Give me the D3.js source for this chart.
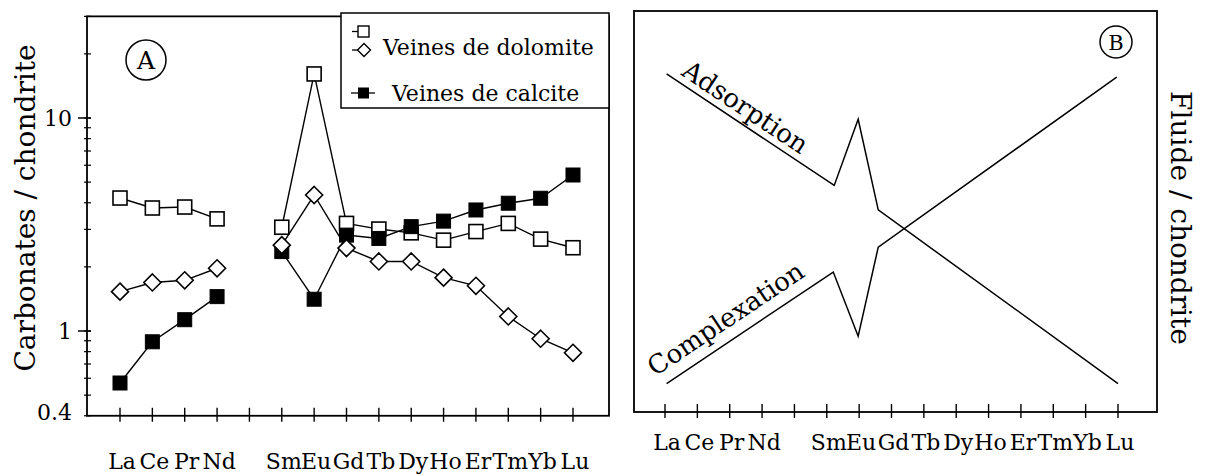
<!DOCTYPE html>
<html><head><meta charset="utf-8">
<script src="https://cdn.jsdelivr.net/npm/d3@7"></script>
<style>
html,body{margin:0;padding:0;background:#fff;}
svg{display:block;}
text{font-family:"DejaVu Serif",serif;fill:#000;}
</style></head>
<body>
<svg id="chart" width="1205" height="475"></svg>
<script>
// ---------- data ----------
const elements = ["La","Ce","Pr","Nd","Pm","Sm","Eu","Gd","Tb","Dy","Ho","Er","Tm","Yb","Lu"];
const tickLabels = ["La","Ce","Pr","Nd","","Sm","Eu","Gd","Tb","Dy","Ho","Er","Tm","Yb","Lu"];
const dolomiteSquares  = [4.21,3.78,3.82,3.36,null,3.07,16.1,3.20,3.01,2.89,2.67,2.93,3.20,2.70,2.46];
const dolomiteDiamonds = [1.53,1.69,1.73,1.97,null,2.53,4.35,2.45,2.12,2.12,1.78,1.63,1.17,0.92,0.79];
const calciteValues    = [0.57,0.89,1.13,1.45,null,2.36,1.41,2.82,2.72,3.09,3.28,3.70,3.98,4.20,5.40];
const yTickValues = [0.4, 1, 10];
const yTickLabels = ["0.4", "1", "10"];
const legendLabels = ["Veines de dolomite", "Veines de calcite"];
// panel B schematic curves (x in element index, y in relative units 0-100)
const adsorptionX   = [0.05, 5.23, 5.97, 6.59, 14];
const adsorptionY   = [84.3, 56.5, 73.0, 50.4, 7.1];
const complexationX = [0.05, 5.2, 5.97, 6.59, 13.96];
const complexationY = [7.1, 34.9, 18.9, 41.1, 83.5];

const svg = d3.select("#chart");

// ---------- panel A ----------
const A = {left: 87, right: 609};
const xA = d3.scaleLinear().domain([0, 14]).range([120, 573]);
const yA = d3.scaleLog().domain([1, 10]).range([331, 118]);
const A_top = yA(30), A_bottom = yA(0.4);

const gA = svg.append("g");
gA.append("rect").attr("x", A.left).attr("y", A_top).attr("width", A.right - A.left).attr("height", A_bottom - A_top)
  .attr("fill", "none").attr("stroke", "#000").attr("stroke-width", 1.8);

// y ticks (log)
const minor = [];
[0.1, 1, 10].forEach(d => { for (let k = 1; k <= 9; k++) { const v = d * k; if (v >= 0.4 && v <= 30) minor.push(v); } });
gA.selectAll(".minor").data(minor).join("line")
  .attr("x1", A.left - 3).attr("x2", A.left + 4)
  .attr("y1", d => yA(d)).attr("y2", d => yA(d)).attr("stroke", "#000").attr("stroke-width", 1.2);
gA.selectAll(".major").data(yTickValues.filter(v => v !== 0.4)).join("line")
  .attr("x1", A.left - 9).attr("x2", A.left + 4)
  .attr("y1", d => yA(d)).attr("y2", d => yA(d)).attr("stroke", "#000").attr("stroke-width", 1.5);
gA.selectAll(".ylab").data(yTickValues).join("text")
  .attr("x", 72).attr("y", (d) => yA(d) + (d === 0.4 ? -4 : 0)).attr("dy", "0.36em")
  .attr("text-anchor", "end").attr("font-size", 22).text((d, i) => yTickLabels[i]);

// x ticks
gA.selectAll(".xt").data(elements).join("line")
  .attr("x1", (d, i) => xA(i)).attr("x2", (d, i) => xA(i))
  .attr("y1", A_bottom - 8).attr("y2", A_bottom + 6).attr("stroke", "#000").attr("stroke-width", 1.4);
gA.selectAll(".xl").data(tickLabels).join("text")
  .attr("x", (d, i) => xA(i) + 2).attr("y", 469).attr("text-anchor", "middle")
  .attr("font-size", 22).text(d => d);

// axis title
gA.append("text").attr("transform", `translate(35,208) rotate(-90)`).attr("text-anchor", "middle")
  .attr("font-size", 28).text("Carbonates / chondrite");

// lines
const lineA = d3.line().defined(d => d.v != null).x(d => xA(d.i)).y(d => yA(d.v));
function series(vals) { return vals.map((v, i) => ({i, v})); }
[dolomiteSquares, dolomiteDiamonds, calciteValues].forEach(vals => {
  gA.append("path").attr("d", lineA(series(vals))).attr("fill", "none")
    .attr("stroke", "#000").attr("stroke-width", 1.4);
});
const sq = 14;
gA.selectAll(".osq").data(series(dolomiteSquares).filter(d => d.v != null)).join("rect")
  .attr("x", d => xA(d.i) - sq / 2).attr("y", d => yA(d.v) - sq / 2).attr("width", sq).attr("height", sq)
  .attr("fill", "#fff").attr("stroke", "#000").attr("stroke-width", 1.6);
gA.selectAll(".fsq").data(series(calciteValues).filter(d => d.v != null)).join("rect")
  .attr("x", d => xA(d.i) - sq / 2).attr("y", d => yA(d.v) - sq / 2).attr("width", sq).attr("height", sq)
  .attr("fill", "#000").attr("stroke", "#000").attr("stroke-width", 1);
const diamond = (cx, cy, r) => `M${cx},${cy - r}L${cx + r},${cy}L${cx},${cy + r}L${cx - r},${cy}Z`;
gA.selectAll(".dia").data(series(dolomiteDiamonds).filter(d => d.v != null)).join("path")
  .attr("d", d => diamond(xA(d.i), yA(d.v), 8.5))
  .attr("fill", "#fff").attr("stroke", "#000").attr("stroke-width", 1.6);

// circled A
gA.append("circle").attr("cx", 146).attr("cy", 60).attr("r", 20).attr("fill", "none").attr("stroke", "#000").attr("stroke-width", 1.5);
gA.append("text").attr("x", 146).attr("y", 60).attr("dy", "0.36em").attr("text-anchor", "middle").attr("font-size", 25).text("A");

// legend
const lg = gA.append("g");
lg.append("rect").attr("x", 341).attr("y", 13).attr("width", 609 - 341).attr("height", 95)
  .attr("fill", "#fff").attr("stroke", "#000").attr("stroke-width", 1.5);
lg.append("line").attr("x1", 352).attr("x2", 363).attr("y1", 31.5).attr("y2", 31.5).attr("stroke", "#000").attr("stroke-width", 1.3);
lg.append("rect").attr("x", 358).attr("y", 26).attr("width", 11).attr("height", 11).attr("fill", "#fff").attr("stroke", "#000").attr("stroke-width", 1.4);
lg.append("line").attr("x1", 352).attr("x2", 363).attr("y1", 50).attr("y2", 50).attr("stroke", "#000").attr("stroke-width", 1.3);
lg.append("path").attr("d", diamond(364, 50, 6.5)).attr("fill", "#fff").attr("stroke", "#000").attr("stroke-width", 1.4);
lg.append("text").attr("x", 383).attr("y", 55).attr("font-size", 22).text(legendLabels[0]);
lg.append("line").attr("x1", 351).attr("x2", 375).attr("y1", 93).attr("y2", 93).attr("stroke", "#000").attr("stroke-width", 1.3);
lg.append("rect").attr("x", 358).attr("y", 87.5).attr("width", 11).attr("height", 11).attr("fill", "#000");
lg.append("text").attr("x", 392).attr("y", 101).attr("font-size", 22).text(legendLabels[1]);

// ---------- panel B ----------
const B = {left: 634, right: 1157, top: 11, bottom: 412};
const xB = d3.scaleLinear().domain([0, 14]).range([665, 1118]);
const yB = d3.scaleLinear().domain([0, 100]).range([B.bottom, B.top]);
const gB = svg.append("g");
gB.append("rect").attr("x", B.left).attr("y", B.top).attr("width", B.right - B.left).attr("height", B.bottom - B.top)
  .attr("fill", "none").attr("stroke", "#000").attr("stroke-width", 1.8);
gB.selectAll(".xt").data(elements).join("line")
  .attr("x1", (d, i) => xB(i)).attr("x2", (d, i) => xB(i))
  .attr("y1", B.bottom - 8).attr("y2", B.bottom + 6).attr("stroke", "#000").attr("stroke-width", 1.4);
gB.selectAll(".xl").data(tickLabels).join("text")
  .attr("x", (d, i) => xB(i) + 2).attr("y", 450).attr("text-anchor", "middle")
  .attr("font-size", 22).text(d => d);

const lineB = d3.line().x(d => xB(d[0])).y(d => yB(d[1]));
gB.append("path").attr("d", lineB(d3.zip(adsorptionX, adsorptionY))).attr("fill", "none").attr("stroke", "#000").attr("stroke-width", 1.5);
gB.append("path").attr("d", lineB(d3.zip(complexationX, complexationY))).attr("fill", "none").attr("stroke", "#000").attr("stroke-width", 1.5);

function alongText(xs, ys, t, off, label) {
  const x0 = xB(xs[0]), y0 = yB(ys[0]), x1 = xB(xs[1]), y1 = yB(ys[1]);
  const ang = Math.atan2(y1 - y0, x1 - x0);
  const px = xB(t), py = y0 + (px - x0) * Math.tan(ang);
  gB.append("text").attr("transform", `translate(${px},${py}) rotate(${ang * 180 / Math.PI})`)
    .attr("y", -off).attr("font-size", 26).text(label);
}
alongText(adsorptionX, adsorptionY, 0.35, 7, "Adsorption");
alongText(complexationX, complexationY, -0.1, 12, "Complexation");

gB.append("circle").attr("cx", 1116).attr("cy", 42).attr("r", 16).attr("fill", "none").attr("stroke", "#000").attr("stroke-width", 1.5);
gB.append("text").attr("x", 1116).attr("y", 42).attr("dy", "0.36em").attr("text-anchor", "middle").attr("font-size", 21).text("B");

gB.append("text").attr("transform", `translate(1171,218) rotate(90)`).attr("text-anchor", "middle")
  .attr("font-size", 28).text("Fluide / chondrite");
</script>
</body></html>
